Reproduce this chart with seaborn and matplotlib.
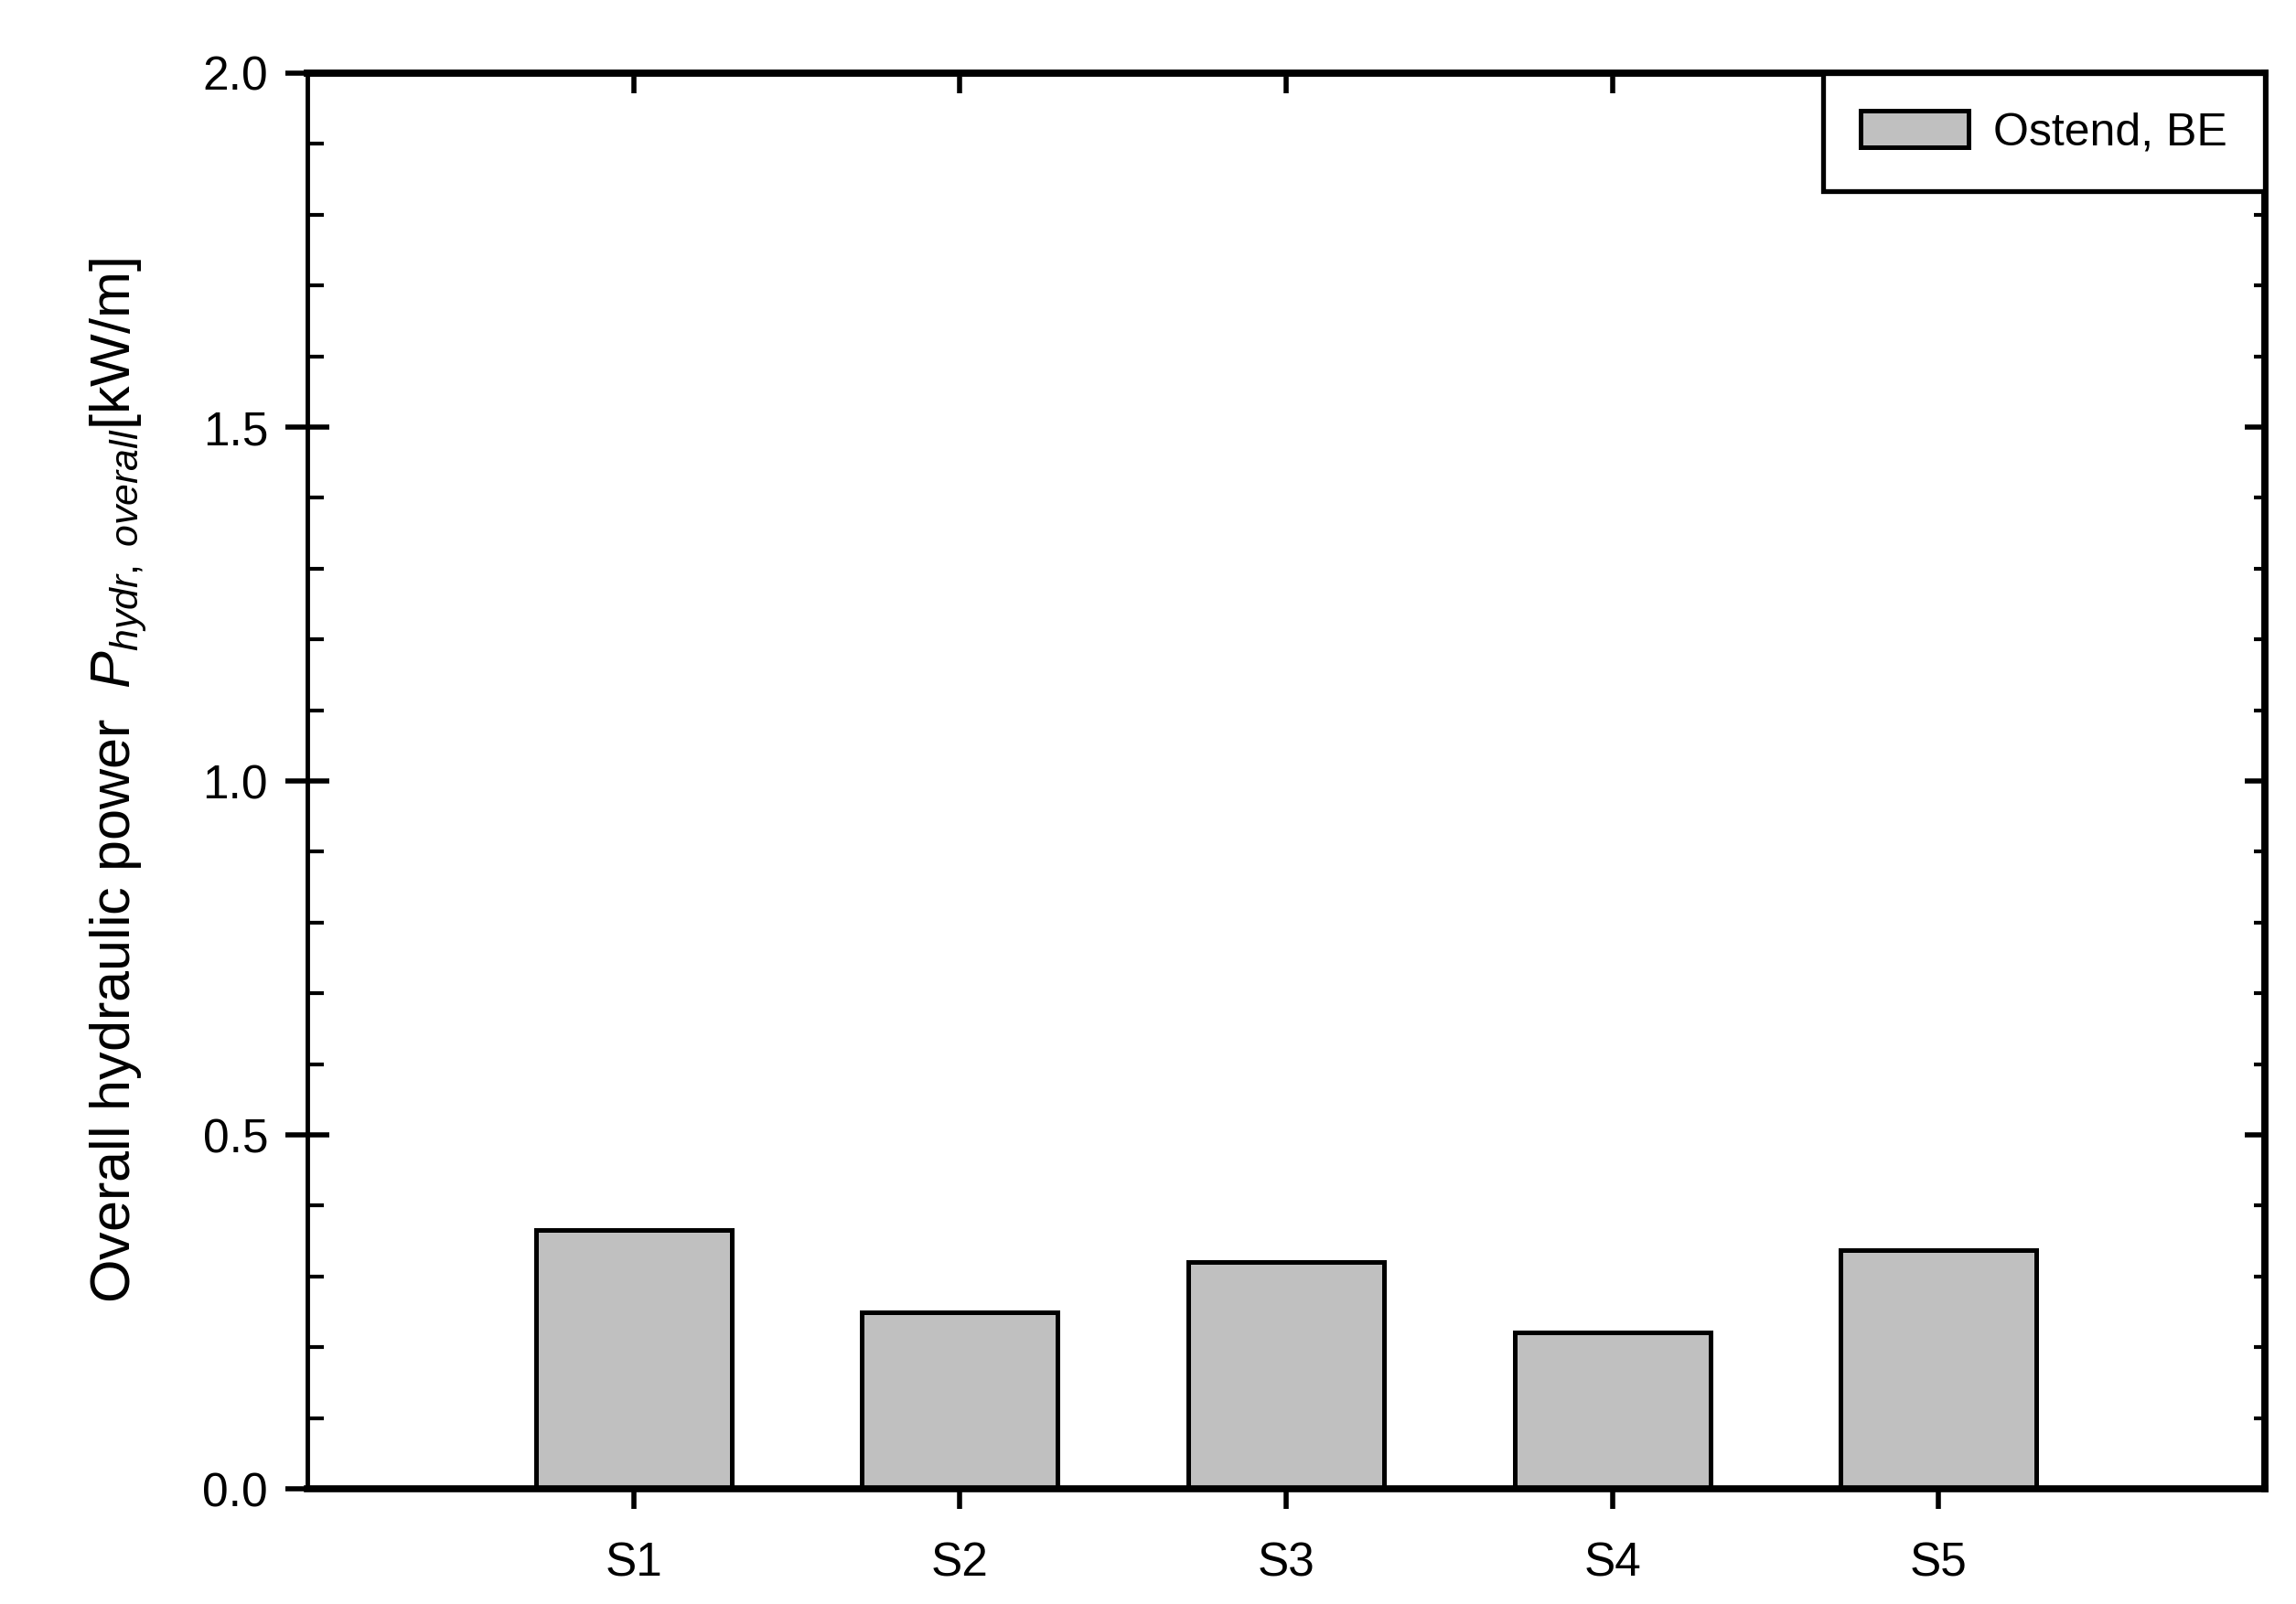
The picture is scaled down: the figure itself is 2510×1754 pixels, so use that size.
import matplotlib
matplotlib.use("Agg")
import matplotlib.pyplot as plt
from matplotlib import font_manager
from matplotlib.ticker import MultipleLocator, NullLocator
import pandas as pd
import seaborn as sns

# Valeurs
scenarios = ["S1", "S2", "S3", "S4", "S5"]
p_hydr = [0.366, 0.249, 0.320, 0.221, 0.337]
site = "Ostend, BE"
y_ticks = [0.0, 0.5, 1.0, 1.5, 2.0]

df = pd.DataFrame({"scenario": scenarios, "p_hydr": p_hydr})

sns.set_theme(style="ticks")
plt.rcParams["font.family"] = ["Liberation Sans", "DejaVu Sans"]
for key in ["text.color", "axes.labelcolor", "xtick.color", "ytick.color"]:
    plt.rcParams[key] = "black"

# Police étroite pour le titre de l'axe y si elle existe
installed = {f.name for f in font_manager.fontManager.ttflist}
label_font = "Liberation Sans Narrow" if "Liberation Sans Narrow" in installed else "Liberation Sans"
plt.rcParams["mathtext.fontset"] = "custom"
plt.rcParams["mathtext.rm"] = label_font
plt.rcParams["mathtext.it"] = label_font + ":italic"

fig = plt.figure(figsize=(25.1, 17.54), dpi=100)
ax = fig.add_axes([0.1339, 0.0718, 0.8526, 0.8826])

sns.barplot(data=df, x="scenario", y="p_hydr", order=scenarios, ax=ax,
            color="#c0c0c0", saturation=1, width=0.6, errorbar=None,
            edgecolor="black", linewidth=3.6, label=site)

ax.set_xlim(-1, 5)
ax.set_ylim(0, 2.0)
ax.set_yticks(y_ticks)
ax.set_yticklabels([f"{v:.1f}" for v in y_ticks])
ax.yaxis.set_minor_locator(MultipleLocator(0.1))
ax.xaxis.set_minor_locator(NullLocator())

ax.set_xlabel("")
ax.set_ylabel(r"Overall hydraulic power  $P_{hydr,\ overall}$[kW/m]",
              family=label_font, fontsize=44, labelpad=42)

for side in ["top", "right", "bottom"]:
    ax.spines[side].set_linewidth(5.5)
    ax.spines[side].set_color("black")
ax.spines["left"].set_linewidth(3.5)
ax.spines["left"].set_color("black")

ax.tick_params(axis="y", which="major", direction="inout", length=34, width=4,
               labelsize=37, pad=14, colors="black", right=False)
ax.tick_params(axis="y", which="minor", direction="in", length=13, width=3,
               right=False, colors="black")
ax.tick_params(axis="x", which="major", direction="out", length=16, width=4,
               labelsize=37, pad=25, colors="black", top=False)

# Graduations intérieures à droite et en haut
sec_y = ax.secondary_yaxis("right")
sec_y.set_yticks(y_ticks)
sec_y.yaxis.set_minor_locator(MultipleLocator(0.1))
sec_y.tick_params(which="major", direction="in", length=16, width=4, labelright=False)
sec_y.tick_params(which="minor", direction="in", length=9, width=3)
sec_y.spines["right"].set_linewidth(5.5)

sec_x = ax.secondary_xaxis("top")
sec_x.set_xticks(range(len(scenarios)))
sec_x.xaxis.set_minor_locator(NullLocator())
sec_x.tick_params(which="major", direction="in", length=16, width=4, labeltop=False)
sec_x.spines["top"].set_linewidth(5.5)

leg = ax.legend(loc="upper right", borderaxespad=0, fancybox=False,
                edgecolor="black", framealpha=1, fontsize=36,
                handlelength=2.35, handleheight=0.85, handletextpad=0.55,
                borderpad=0.82)
leg.get_frame().set_linewidth(3.8)

fig.savefig("out.png", dpi=100, facecolor="white")
